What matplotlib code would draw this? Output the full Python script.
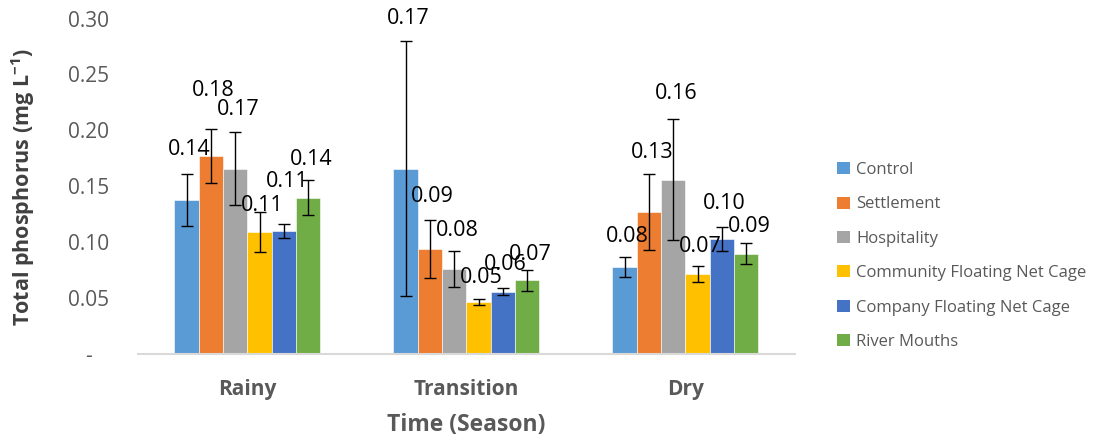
import numpy as np
import matplotlib
matplotlib.use("Agg")
import matplotlib.pyplot as plt
from matplotlib.patches import Patch

plt.rcParams['font.family'] = ['Open Sans', 'DejaVu Sans']
plt.rcParams['mathtext.fontset'] = 'custom'
plt.rcParams['mathtext.rm'] = 'Open Sans'
plt.rcParams['mathtext.bf'] = 'Open Sans:bold'

seasons = ["Rainy", "Transition", "Dry"]
series_names = ["Control", "Settlement", "Hospitality",
                "Community Floating Net Cage", "Company Floating Net Cage", "River Mouths"]

control = [0.138, 0.166, 0.078]
settlement = [0.177, 0.094, 0.127]
hospitality = [0.166, 0.076, 0.156]
community = [0.109, 0.047, 0.072]
company = [0.110, 0.056, 0.103]
river = [0.140, 0.066, 0.090]

control_err = [0.023, 0.114, 0.009]
settlement_err = [0.024, 0.026, 0.034]
hospitality_err = [0.033, 0.016, 0.054]
community_err = [0.018, 0.0025, 0.0073]
company_err = [0.0065, 0.003, 0.0107]
river_err = [0.0155, 0.009, 0.009]

# where the data labels sit (y, in data units), as placed in the original
control_lab = [0.183, 0.300, 0.105]
settlement_lab = [0.236, 0.141, 0.180]
hospitality_lab = [0.219, 0.111, 0.233]
community_lab = [0.133, 0.069, 0.096]
company_lab = [0.154, 0.080, 0.135]
river_lab = [0.174, 0.089, 0.114]

values = [control, settlement, hospitality, community, company, river]
errors = [control_err, settlement_err, hospitality_err, community_err, company_err, river_err]
label_y = [control_lab, settlement_lab, hospitality_lab, community_lab, company_lab, river_lab]
colors = ["#5B9BD5", "#ED7D31", "#A5A5A5", "#FFC000", "#4472C4", "#70AD47"]

fig = plt.figure(figsize=(11.01, 4.43), dpi=100)
ax = fig.add_axes([0.1253, 0.2002, 0.5967, 0.758])

x = np.arange(len(seasons))
n = len(values)
bw = (2 / 3) / n
for i in range(n):
    xs = x - 1 / 3 + bw * (i + 0.5)
    ax.bar(xs, values[i], width=bw, color=colors[i], edgecolor="white", linewidth=0.4)
    ax.errorbar(xs, values[i], yerr=errors[i], fmt="none", ecolor="black",
                elinewidth=1, capsize=4.5, capthick=1)
    for j in range(len(seasons)):
        ax.annotate(f"{values[i][j]:.2f}", (xs[j], label_y[i][j]), xytext=(2, 0),
                    textcoords="offset points", ha="center", va="center",
                    fontsize=15.5, color="black", annotation_clip=False)

ax.set_xlim(-0.5, 2.5)
ax.set_ylim(0, 0.30)
ax.set_yticks(np.arange(0, 0.301, 0.05))
ax.yaxis.set_major_formatter(plt.FuncFormatter(lambda v, p: "-   " if abs(v) < 1e-9 else f"{v:.2f}"))
ax.set_xticks(x)
ax.set_xticklabels(seasons, fontweight="bold")
ax.tick_params(axis="both", length=0, labelsize=15, labelcolor="#595959")
ax.tick_params(axis="x", pad=18)
ax.tick_params(axis="y", pad=21)
for s in ["top", "right", "left"]:
    ax.spines[s].set_visible(False)
ax.spines["bottom"].set_color("#D9D9D9")
ax.spines["bottom"].set_linewidth(1.5)

fig.text(466.5 / 1101, 1 - 425 / 443, "Time (Season)", ha="center", va="center",
         fontsize=16.5, fontweight="bold", color="#595959")
fig.text(23 / 1101, 1 - 187 / 443, r"Total phosphorus (mg L$^{\mathbf{-1}}$)", ha="center",
         va="center", rotation=90, fontsize=15.5, fontweight="bold", color="#404040")

handles = [Patch(facecolor=c, edgecolor="none") for c in colors]
fig.legend(handles, series_names, loc="center left", bbox_to_anchor=(822 / 1101, 1 - 256 / 443),
           frameon=False, fontsize=12, labelcolor="#595959", handlelength=0.75,
           handleheight=0.75, handletextpad=0.4, labelspacing=1.1)

fig.savefig("out.png", dpi=100)
